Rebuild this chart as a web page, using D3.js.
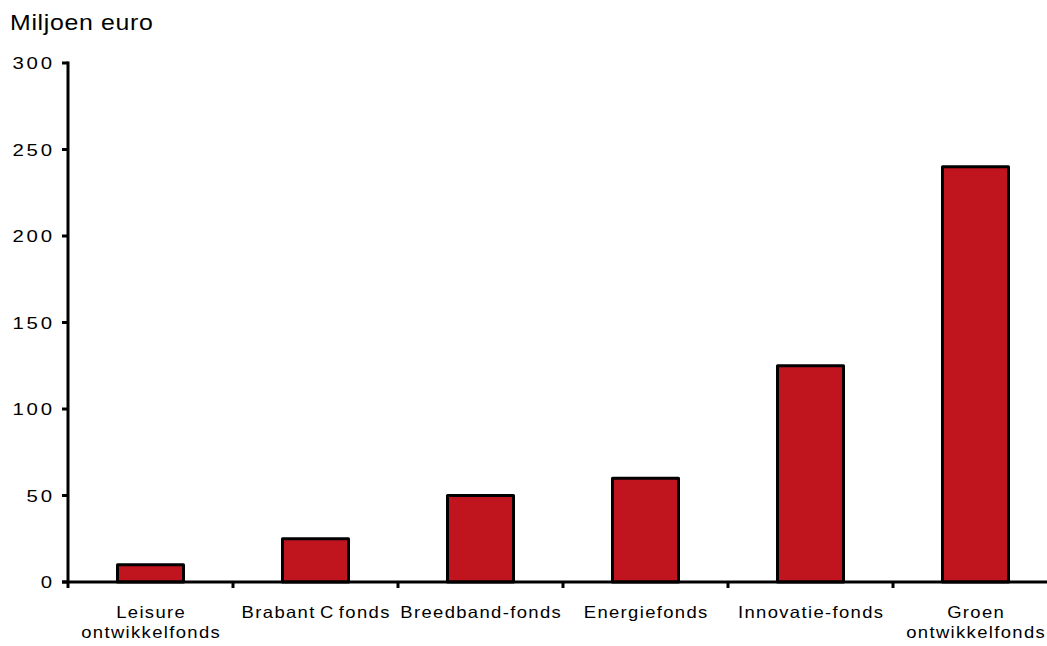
<!DOCTYPE html>
<html>
<head>
<meta charset="utf-8">
<script src="https://cdn.jsdelivr.net/npm/d3@7"></script>
<style>
  html, body { margin: 0; padding: 0; background: #fff; }
  svg { display: block; }
  text { font-family: "Liberation Sans", Arial, sans-serif; fill: #000; }
</style>
</head>
<body>
<svg id="chart" width="1047" height="646"></svg>
<script>
// Fondsen en omvang (miljoen euro)
const categories = [
  ["Leisure", "ontwikkelfonds"],
  ["Brabant C fonds"],
  ["Breedband-fonds"],
  ["Energiefonds"],
  ["Innovatie-fonds"],
  ["Groen", "ontwikkelfonds"]
];
const values = [10, 25, 50, 60, 125, 240];
const yTicks = [0, 50, 100, 150, 200, 250, 300];
const yTitle = "Miljoen euro";

(function () {
  const svg = d3.select("#chart");
  const mLeft = 68, mRight = 1058, mTop = 63, mBottom = 582;

  const x = d3.scaleBand()
    .domain(d3.range(categories.length))
    .range([mLeft, mRight])
    .paddingInner(0.6)
    .paddingOuter(0.3);

  const step = x.step();

  const y = d3.scaleLinear().domain([0, 300]).range([mBottom, mTop]);

  // Staven
  svg.append("g")
    .selectAll("rect")
    .data(values)
    .join("rect")
    .attr("x", (d, i) => x(i))
    .attr("y", d => y(d))
    .attr("width", x.bandwidth())
    .attr("height", d => y(0) - y(d))
    .attr("fill", "#C0141E")
    .attr("stroke", "#000")
    .attr("stroke-width", 3)
    .attr("stroke-linejoin", "round");

  // Y-as
  const tickSx = 1.2, tickLs = 2.3;
  const yAxis = svg.append("g").attr("transform", `translate(${mLeft},0)`);
  yAxis.append("line")
    .attr("x1", 0).attr("x2", 0)
    .attr("y1", y(300) - 1.5).attr("y2", y(0))
    .attr("stroke", "#000").attr("stroke-width", 3);
  yAxis.selectAll("line.tick")
    .data(yTicks)
    .join("line")
    .attr("class", "tick")
    .attr("x1", -6).attr("x2", 0)
    .attr("y1", d => y(d)).attr("y2", d => y(d))
    .attr("stroke", "#000").attr("stroke-width", 3);
  yAxis.selectAll("g.lbl")
    .data(yTicks)
    .join("g")
    .attr("class", "lbl")
    .attr("transform", d => `translate(${-16 + tickLs * tickSx},${y(d)}) scale(${tickSx},1)`)
    .append("text")
    .attr("dy", "0.36em")
    .attr("text-anchor", "end")
    .attr("font-size", 17)
    .attr("letter-spacing", tickLs)
    .text(d => d);

  // X-as
  const xAxis = svg.append("g");
  xAxis.append("line")
    .attr("x1", mLeft - 6).attr("x2", 1047)
    .attr("y1", mBottom).attr("y2", mBottom)
    .attr("stroke", "#000").attr("stroke-width", 3);
  const boundaries = d3.range(categories.length + 1).map(i => mLeft + i * step);
  xAxis.selectAll("line.tick")
    .data(boundaries)
    .join("line")
    .attr("class", "tick")
    .attr("x1", d => d).attr("x2", d => d)
    .attr("y1", mBottom).attr("y2", mBottom + 6)
    .attr("stroke", "#000").attr("stroke-width", 3);

  const labelSx = 1.12, labelLs = 1.2;
  const labels = xAxis.selectAll("g.lbl")
    .data(categories)
    .join("g")
    .attr("class", "lbl")
    .attr("transform", (d, i) =>
      `translate(${x(i) + x.bandwidth() / 2 + labelLs * labelSx / 2},618) scale(${labelSx},1)`)
    .append("text")
    .attr("text-anchor", "middle")
    .attr("font-size", 16.5)
    .attr("letter-spacing", labelLs)
    .attr("word-spacing", -2);
  labels.selectAll("tspan")
    .data(d => d)
    .join("tspan")
    .attr("x", 0)
    .attr("dy", (d, j) => j === 0 ? 0 : 20)
    .text(d => d);

  // As-titel
  svg.append("g")
    .attr("transform", `translate(10,30) scale(1.13,1)`)
    .append("text")
    .attr("font-size", 22)
    .attr("letter-spacing", 0.6)
    .text(yTitle);
})();
</script>
</body>
</html>
